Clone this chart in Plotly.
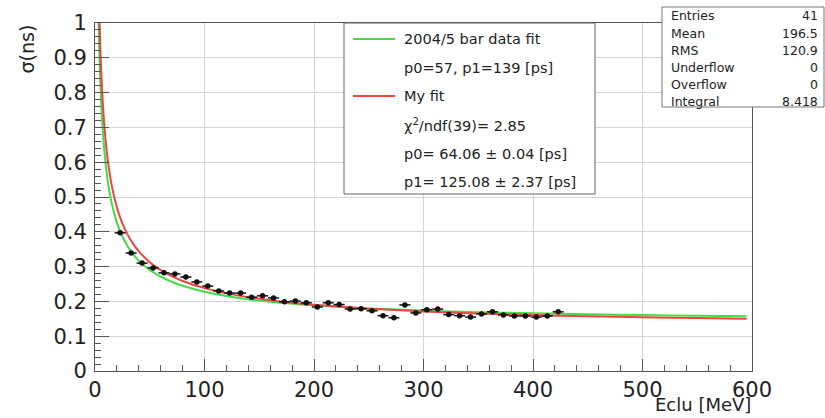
import plotly.graph_objects as go

# ---------------- data ----------------
energy_mev = [23, 33, 43, 53, 63, 73, 83, 93, 103, 113,
              123, 133, 143, 153, 163, 173, 183, 193, 203, 213,
              223, 233, 243, 253, 263, 273, 283, 293, 303, 313,
              323, 333, 343, 353, 363, 373, 383, 393, 403, 413, 423]
sigma_ns = [0.397, 0.339, 0.310, 0.296, 0.282, 0.279, 0.270, 0.256, 0.244, 0.230,
            0.224, 0.224, 0.212, 0.216, 0.210, 0.199, 0.201, 0.196, 0.184, 0.196,
            0.191, 0.178, 0.179, 0.173, 0.159, 0.153, 0.190, 0.167, 0.176, 0.178,
            0.162, 0.159, 0.155, 0.164, 0.170, 0.161, 0.158, 0.158, 0.155, 0.158, 0.170]
bin_half_width = 5

fit2004_e = [3.3, 3.6, 4, 4.5, 5, 6, 7, 8, 9, 10, 12, 15, 20, 25, 30, 35, 40, 50, 60, 70, 80,
             100, 130, 160, 200, 250, 300, 350, 400, 450, 500, 550, 595]
fit2004_sigma = [1.0019, 0.9601, 0.9119, 0.8610, 0.8180, 0.7489, 0.6953, 0.6523, 0.6167, 0.5867,
                 0.5386, 0.4857, 0.4264, 0.3864, 0.3572, 0.3349, 0.3171, 0.2903, 0.2711, 0.2564,
                 0.2448, 0.2276, 0.2105, 0.1991, 0.1886, 0.1798, 0.1736, 0.1691, 0.1657, 0.1629,
                 0.1607, 0.1588, 0.1574]

myfit_e = [4.1, 4.5, 5, 6, 7, 8, 9, 10, 12, 15, 20, 25, 30, 35, 40, 50, 60, 70, 80,
           100, 130, 160, 200, 250, 300, 350, 400, 450, 500, 550, 595]
myfit_sigma = [1.0082, 0.9631, 0.9145, 0.8364, 0.7758, 0.7271, 0.6867, 0.6527, 0.5980, 0.5378,
               0.4699, 0.4240, 0.3904, 0.3645, 0.3439, 0.3126, 0.2899, 0.2725, 0.2587, 0.2381,
               0.2173, 0.2032, 0.1902, 0.1791, 0.1712, 0.1654, 0.1609, 0.1574, 0.1544, 0.1520,
               0.1501]

x_ticks = [0, 100, 200, 300, 400, 500, 600]
x_ticktext = ["0", "100", "200", "300", "400", "500", "600"]
y_ticks = [0, 0.1, 0.2, 0.3, 0.4, 0.5, 0.6, 0.7, 0.8, 0.9, 1.0]
y_ticktext = ["0", "0.1", "0.2", "0.3", "0.4", "0.5", "0.6", "0.7", "0.8", "0.9", "1"]

legend_texts = ["2004/5 bar data fit", "p0=57, p1=139 [ps]", "My fit",
                "χ<sup>2</sup>/ndf(39)= 2.85", "p0= 64.06 ± 0.04 [ps]", "p1= 125.08 ± 2.37 [ps]"]
stats_labels = ["Entries", "Mean", "RMS", "Underflow", "Overflow", "Integral"]
stats_values = ["41", "196.5", "120.9", "0", "0", "8.418"]

GREEN = "#44dd44"
RED = "#f04444"
FONT = "DejaVu Sans"

# ---------------- geometry helpers (pixels -> paper) ----------------
W, H = 825, 418
L, R, T, B = 95, 73, 23, 47
PW, PH = W - L - R, H - T - B


def px(x):
    return (x - L) / PW


def py(y):
    return (H - B - y) / PH


fig = go.Figure()

fig.add_trace(go.Scatter(x=fit2004_e, y=fit2004_sigma, mode="lines",
                         line=dict(color=GREEN, width=2, shape="spline", smoothing=0.6),
                         showlegend=False, hoverinfo="skip"))
fig.add_trace(go.Scatter(x=myfit_e, y=myfit_sigma, mode="lines",
                         line=dict(color=RED, width=2, shape="spline", smoothing=0.6),
                         showlegend=False, hoverinfo="skip"))
fig.add_trace(go.Scatter(x=energy_mev, y=sigma_ns, mode="markers",
                         marker=dict(color="#111111", size=5.5),
                         error_x=dict(type="constant", value=bin_half_width, width=0,
                                      thickness=1.5, color="#111111"),
                         showlegend=False))

axis_common = dict(showline=True, linecolor="#555555", linewidth=1, mirror=True,
                   ticks="inside", tickcolor="#555555", showgrid=True,
                   gridcolor="#d4d4d4", gridwidth=1, zeroline=False,
                   tickfont=dict(family=FONT, size=21, color="#222222"),
                   automargin=False)

fig.update_xaxes(range=[0, 600], tickvals=x_ticks, ticktext=x_ticktext, ticklen=12,
                 minor=dict(dtick=20, ticks="inside", ticklen=6, tickcolor="#555555",
                            showgrid=False),
                 **axis_common)
fig.update_yaxes(range=[0, 1], tickvals=y_ticks, ticktext=y_ticktext, ticklen=14,
                 ticklabelstandoff=3,
                 minor=dict(dtick=0.02, ticks="inside", ticklen=6, tickcolor="#555555",
                            showgrid=False),
                 **axis_common)

shapes = []
annotations = []

# legend box
shapes.append(dict(type="rect", xref="paper", yref="paper",
                   x0=px(344), x1=px(595), y0=py(194), y1=py(23),
                   fillcolor="white", line=dict(color="#666666", width=1), layer="above"))
row_y = [39, 67.6, 96, 125, 153.6, 182]
shapes.append(dict(type="line", xref="paper", yref="paper", x0=px(353), x1=px(395),
                   y0=py(row_y[0]), y1=py(row_y[0]), line=dict(color=GREEN, width=2), layer="above"))
shapes.append(dict(type="line", xref="paper", yref="paper", x0=px(353), x1=px(395),
                   y0=py(row_y[2]), y1=py(row_y[2]), line=dict(color=RED, width=2), layer="above"))
for txt, yy in zip(legend_texts, row_y):
    annotations.append(dict(text=txt, xref="paper", yref="paper", x=px(402), y=py(yy),
                            xanchor="left", yanchor="middle", showarrow=False,
                            font=dict(family=FONT, size=14.5, color="#222222")))

# stats box
shapes.append(dict(type="rect", xref="paper", yref="paper",
                   x0=px(662), x1=px(824), y0=py(107), y1=py(7),
                   fillcolor="white", line=dict(color="#777777", width=1), layer="above"))
stats_y = [15.5, 33, 50, 67.5, 85, 101]
for lab, val, yy in zip(stats_labels, stats_values, stats_y):
    annotations.append(dict(text=lab, xref="paper", yref="paper", x=px(669), y=py(yy),
                            xanchor="left", yanchor="middle", showarrow=False,
                            font=dict(family=FONT, size=12.5, color="#222222")))
    annotations.append(dict(text=val, xref="paper", yref="paper", x=px(820), y=py(yy),
                            xanchor="right", yanchor="middle", showarrow=False,
                            font=dict(family=FONT, size=12.5, color="#222222")))

# axis titles
annotations.append(dict(text="σ(ns)", xref="paper", yref="paper", x=px(26), y=py(23),
                        xanchor="center", yanchor="top", textangle=-90, showarrow=False,
                        font=dict(family=FONT, size=19, color="#222222")))
annotations.append(dict(text="Eclu [MeV]", xref="paper", yref="paper", x=px(753), y=py(417),
                        xanchor="right", yanchor="bottom", showarrow=False,
                        font=dict(family=FONT, size=18, color="#222222")))

fig.update_layout(width=W, height=H, margin=dict(l=L, r=R, t=T, b=B, pad=0),
                  paper_bgcolor="white", plot_bgcolor="white",
                  shapes=shapes, annotations=annotations, showlegend=False)

fig.write_html("out.html")
